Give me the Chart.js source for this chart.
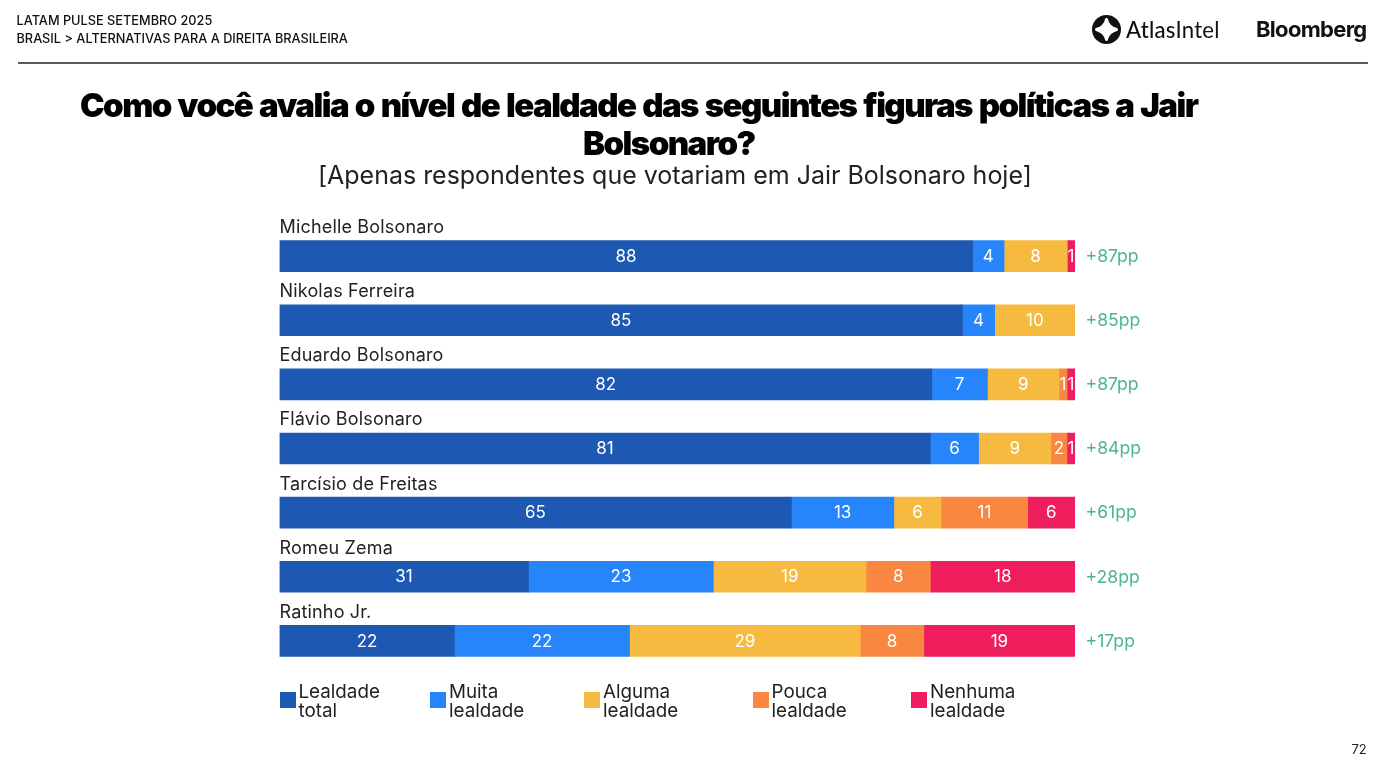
<!DOCTYPE html>
<html lang="pt-BR">
<head>
<meta charset="utf-8">
<title>Lealdade a Jair Bolsonaro</title>
<script src="https://cdn.jsdelivr.net/npm/chart.js@4/dist/chart.umd.min.js"></script>
<style>
  html, body { margin: 0; padding: 0; background: #fff; }
  body { position: relative; width: 1397px; height: 784px; overflow: hidden; font-family: Inter, sans-serif; color: #111; }
  #chart { position: absolute; left: 0; top: 0; }
  .abs { position: absolute; white-space: nowrap; }
  .header { left: 16.5px; font-size: 12.75px; line-height: 14px; font-weight: 500; color: #111; }
  .rule { left: 18px; top: 62px; width: 1350px; height: 1.5px; background: #5a5a5a; }
  .title { font-size: 33px; line-height: 38px; font-weight: 900; letter-spacing: -1.55px; word-spacing: 1.75px; color: #000; }
  .subtitle { left: 318px; top: 160px; font-size: 25px; line-height: 30px; font-weight: 400; letter-spacing: -.02px; color: #222; }
  .atlas { left: 1126px; top: 16px; font-family: Lato, sans-serif; font-size: 22.2px; line-height: 28px; color: #111; letter-spacing: .2px; }
  .atlas b { font-weight: 500; }
  .atlas span { font-weight: 400; }
  .bloomberg { left: 1256px; top: 15px; font-size: 22px; line-height: 28px; font-weight: 700; letter-spacing: -.7px; color: #111; }
  .page { left: 1351.5px; top: 742px; font-size: 13px; line-height: 15px; color: #222; }
  #legend div { position: absolute; top: 682px; padding-left: 19px; white-space: pre-line; font-size: 18.8px; line-height: 19px; color: #222; }
  #legend i { position: absolute; left: 0; top: 10px; width: 16px; height: 16px; }
  #legend div:nth-child(1) { left: 279.5px; }
  #legend div:nth-child(2) { left: 430px; }
  #legend div:nth-child(3) { left: 584px; }
  #legend div:nth-child(4) { left: 752.5px; }
  #legend div:nth-child(5) { left: 911px; }
</style>
</head>
<body>
<canvas id="chart" width="1397" height="784"></canvas>

<div class="abs header" style="top:14px">LATAM PULSE SETEMBRO 2025</div>
<div class="abs header" style="top:32px">BRASIL &gt; ALTERNATIVAS PARA A DIREITA BRASILEIRA</div>
<div class="abs rule"></div>

<svg class="abs" style="left:1092px;top:15px" width="29" height="29" viewBox="0 0 29 29">
  <circle cx="14.5" cy="14.5" r="14.5" fill="#111"/>
  <path d="M14.5 4.5 Q16 12 24.5 14.5 Q16 17 14.5 24.5 Q13 17 4.5 14.5 Q13 12 14.5 4.5Z" fill="#fff" stroke="#fff" stroke-width="3" stroke-linejoin="round"/>
</svg>
<div class="abs atlas"><b>Atlas</b><span>Intel</span></div>
<div class="abs bloomberg">Bloomberg</div>

<div class="abs title" style="left:80px;top:86px">Como você avalia o nível de lealdade das seguintes figuras políticas a Jair</div>
<div class="abs title" style="left:583px;top:124px">Bolsonaro?</div>
<div class="abs subtitle">[Apenas respondentes que votariam em Jair Bolsonaro hoje]</div>

<div id="legend"></div>
<div class="abs page">72</div>

<script>
'use strict';

const POLITICIANS = ['Michelle Bolsonaro', 'Nikolas Ferreira', 'Eduardo Bolsonaro', 'Flávio Bolsonaro', 'Tarcísio de Freitas', 'Romeu Zema', 'Ratinho Jr.'];

const LEALDADE_TOTAL = [88, 85, 82, 81, 65, 31, 22];
const MUITA_LEALDADE = [4, 4, 7, 6, 13, 23, 22];
const ALGUMA_LEALDADE = [8, 10, 9, 9, 6, 19, 29];
const POUCA_LEALDADE = [0, 0, 1, 2, 11, 8, 8];
const NENHUMA_LEALDADE = [1, 0, 1, 1, 6, 18, 19];

const NET_LABELS = ['+87pp', '+85pp', '+87pp', '+84pp', '+61pp', '+28pp', '+17pp'];

const SERIES_NAMES = ['Lealdade total', 'Muita lealdade', 'Alguma lealdade', 'Pouca lealdade', 'Nenhuma lealdade'];
const SERIES_COLORS = ['#1D59B3', '#2685FB', '#F7BA41', '#F98741', '#EE1E5D'];

const SERIES_VALUES = [LEALDADE_TOTAL, MUITA_LEALDADE, ALGUMA_LEALDADE, POUCA_LEALDADE, NENHUMA_LEALDADE];

// rounded answers don't always add up to 100, so each row is scaled to fill the bar
const rowTotals = POLITICIANS.map((_, row) => SERIES_VALUES.reduce((sum, values) => sum + values[row], 0));

const datasets = SERIES_NAMES.map((name, i) => ({
  label: name,
  rawValues: SERIES_VALUES[i],
  data: SERIES_VALUES[i].map((value, row) => value / rowTotals[row] * 100),
  backgroundColor: SERIES_COLORS[i],
  borderWidth: 0,
  barThickness: 31
}));

// value inside each segment, skipping the empty ones
const segmentLabels = {
  id: 'segmentLabels',
  afterDatasetsDraw(chart) {
    const ctx = chart.ctx;
    ctx.save();
    ctx.font = '400 17px Inter, sans-serif';
    ctx.fillStyle = '#fff';
    ctx.textAlign = 'center';
    ctx.textBaseline = 'middle';
    chart.data.datasets.forEach((dataset, i) => {
      chart.getDatasetMeta(i).data.forEach((bar, row) => {
        const value = dataset.rawValues[row];
        if (value > 0) {
          ctx.fillText(String(value), (bar.base + bar.x) / 2, bar.y + 0.5);
        }
      });
    });
    ctx.restore();
  }
};

// politician name over each bar and net score to the right of it
const rowLabels = {
  id: 'rowLabels',
  afterDraw(chart) {
    const ctx = chart.ctx;
    const area = chart.chartArea;
    const y = chart.scales.y;
    ctx.save();
    ctx.textBaseline = 'middle';
    POLITICIANS.forEach((name, row) => {
      const center = y.getPixelForValue(row);
      ctx.textAlign = 'left';
      ctx.font = '400 18px Inter, sans-serif';
      ctx.letterSpacing = '0.17px';
      ctx.fillStyle = '#222';
      ctx.fillText(name, area.left, center - 28.5);
      ctx.font = '400 17.6px Inter, sans-serif';
      ctx.letterSpacing = '0px';
      ctx.fillStyle = '#4DB493';
      ctx.fillText(NET_LABELS[row], area.right + 10.5, center + 0.5);
    });
    ctx.restore();
  }
};

const chart = new Chart(document.getElementById('chart'), {
  type: 'bar',
  data: { labels: POLITICIANS, datasets: datasets },
  plugins: [segmentLabels, rowLabels],
  options: {
    indexAxis: 'y',
    responsive: false,
    animation: false,
    layout: { padding: { left: 279.5, right: 322, top: 224, bottom: 111 } },
    plugins: { legend: { display: false }, tooltip: { enabled: false } },
    scales: {
      x: { stacked: true, display: false, min: 0, max: 100 },
      y: { stacked: true, display: false }
    }
  }
});

// legend items sit at uneven spacing and wrap on two lines, so it lives in the page
const legend = document.getElementById('legend');
chart.data.datasets.forEach((dataset) => {
  const item = document.createElement('div');
  const swatch = document.createElement('i');
  swatch.style.background = dataset.backgroundColor;
  item.appendChild(swatch);
  item.appendChild(document.createTextNode(dataset.label.replace(' ', '\n')));
  legend.appendChild(item);
});
</script>
</body>
</html>
